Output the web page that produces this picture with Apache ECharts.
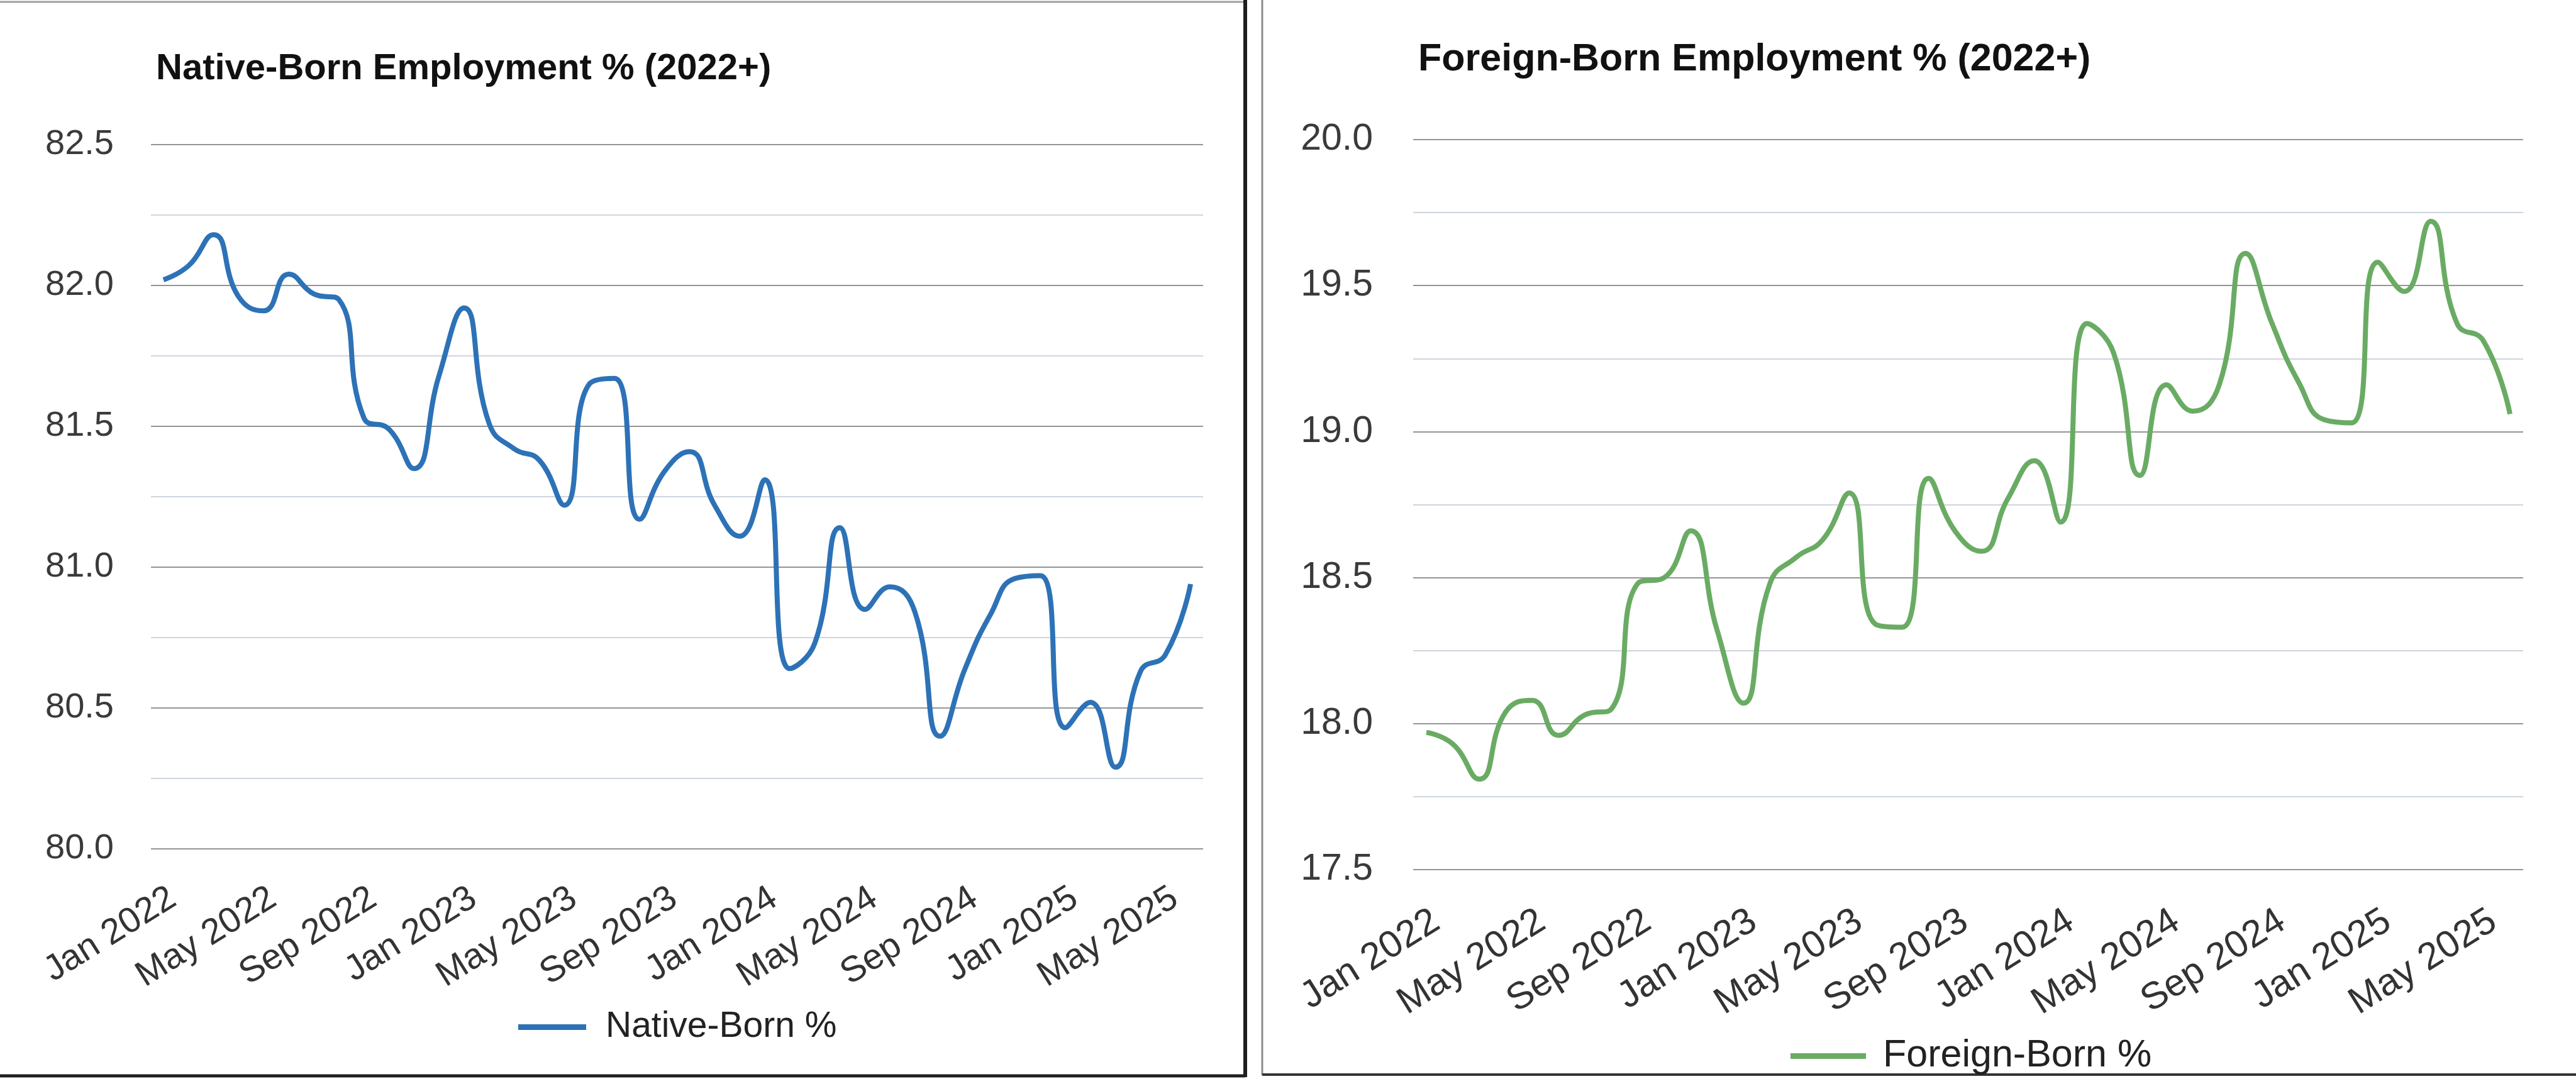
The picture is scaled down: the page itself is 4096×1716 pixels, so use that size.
<!DOCTYPE html>
<html>
<head>
<meta charset="utf-8">
<script src="https://cdn.jsdelivr.net/npm/echarts@6/dist/echarts.min.js"></script>
<style>
  html, body { margin: 0; padding: 0; background: #ffffff; }
  #chart { width: 4096px; height: 1716px; }
</style>
</head>
<body>
<div id="chart"></div>
<script>
// ---- Data ----
const months = [
  'Jan 2022','Feb 2022','Mar 2022','Apr 2022','May 2022','Jun 2022','Jul 2022','Aug 2022','Sep 2022','Oct 2022','Nov 2022','Dec 2022',
  'Jan 2023','Feb 2023','Mar 2023','Apr 2023','May 2023','Jun 2023','Jul 2023','Aug 2023','Sep 2023','Oct 2023','Nov 2023','Dec 2023',
  'Jan 2024','Feb 2024','Mar 2024','Apr 2024','May 2024','Jun 2024','Jul 2024','Aug 2024','Sep 2024','Oct 2024','Nov 2024','Dec 2024',
  'Jan 2025','Feb 2025','Mar 2025','Apr 2025','May 2025','Jun 2025'
];

const nativeBorn = [
  82.02, 82.07, 82.18, 81.96, 81.91, 82.04, 81.97, 81.95, 81.53, 81.49, 81.35, 81.68,
  81.92, 81.51, 81.42, 81.38, 81.22, 81.65, 81.67, 81.17, 81.34, 81.41, 81.22, 81.11,
  81.31, 80.64, 80.73, 81.14, 80.85, 80.93, 80.84, 80.40, 80.64, 80.83, 80.96, 80.97,
  80.43, 80.52, 80.29, 80.63, 80.69, 80.94
];

const foreignBorn = [
  17.97, 17.93, 17.81, 18.04, 18.08, 17.96, 18.03, 18.05, 18.48, 18.50, 18.66, 18.32,
  18.07, 18.48, 18.57, 18.63, 18.79, 18.34, 18.33, 18.84, 18.66, 18.59, 18.77, 18.90,
  18.69, 19.37, 19.27, 18.85, 19.16, 19.07, 19.16, 19.61, 19.37, 19.17, 19.04, 19.03,
  19.58, 19.48, 19.72, 19.37, 19.31, 19.06
];

const nativeAxis = { min: 80.0, max: 82.5, interval: 0.5 };
const foreignAxis = { min: 17.5, max: 20.0, interval: 0.5 };

const titles = ['Native-Born Employment % (2022+)', 'Foreign-Born Employment % (2022+)'];
const seriesNames = ['Native-Born %', 'Foreign-Born %'];

// ---- Chart ----
const FONT = '"Liberation Sans", Arial, Helvetica, sans-serif';
const chart = echarts.init(document.getElementById('chart'), null, { renderer: 'canvas' });

function xAxisCfg(gridIndex, fontSize, margin) {
  return {
    type: 'category', gridIndex: gridIndex, data: months, boundaryGap: true,
    axisLine: { show: false }, axisTick: { show: false },
    splitLine: { show: false },
    axisLabel: {
      interval: 3, rotate: 32, fontSize: fontSize, color: '#333333', fontFamily: FONT,
      margin: margin, align: 'right', verticalAlign: 'top'
    }
  };
}
function yAxisCfg(gridIndex, ax, fontSize, margin) {
  return {
    type: 'value', gridIndex: gridIndex, min: ax.min, max: ax.max, interval: ax.interval,
    axisLine: { show: false }, axisTick: { show: false },
    axisLabel: { fontSize: fontSize, color: '#3a3a3a', fontFamily: FONT, margin: margin,
      formatter: v => v.toFixed(1) },
    splitLine: { show: true, lineStyle: { color: '#959595', width: 2 } },
    minorTick: { show: false, splitNumber: 2 },
    minorSplitLine: { show: true, lineStyle: { color: '#cfd5de', width: 2 } }
  };
}

const option = {
  backgroundColor: '#ffffff',
  animation: false,
  title: [
    { text: titles[0], left: 243, top: 76,
      textStyle: { fontSize: 58, fontWeight: 'bold', color: '#111111', fontFamily: FONT } },
    { text: titles[1], left: 2250, top: 60,
      textStyle: { fontSize: 61, fontWeight: 'bold', color: '#111111', fontFamily: FONT } }
  ],
  grid: [
    { left: 240, top: 230, width: 1673, height: 1120 },
    { left: 2247, top: 222, width: 1765, height: 1161 }
  ],
  xAxis: [ xAxisCfg(0, 57, 50), xAxisCfg(1, 60, 52) ],
  yAxis: [ yAxisCfg(0, nativeAxis, 56, 59), yAxisCfg(1, foreignAxis, 59, 64) ],
  legend: [
    { data: [seriesNames[0]], left: 819, top: 1600, icon: 'rect', itemWidth: 108, itemHeight: 9,
      textStyle: { fontSize: 57, color: '#222222', fontFamily: FONT, padding: [0, 0, 0, 26] } },
    { data: [seriesNames[1]], left: 2842, top: 1644, icon: 'rect', itemWidth: 120, itemHeight: 9,
      textStyle: { fontSize: 61, color: '#222222', fontFamily: FONT, padding: [0, 0, 0, 22] } }
  ],
  series: [
    { name: seriesNames[0], type: 'line', xAxisIndex: 0, yAxisIndex: 0, data: nativeBorn,
      smooth: 0.5, showSymbol: false, symbol: 'none',
      lineStyle: { color: '#2d72b6', width: 8 }, itemStyle: { color: '#2d72b6' } },
    { name: seriesNames[1], type: 'line', xAxisIndex: 1, yAxisIndex: 1, data: foreignBorn,
      smooth: 0.5, showSymbol: false, symbol: 'none',
      lineStyle: { color: '#6aab64', width: 8 }, itemStyle: { color: '#6aab64' } }
  ],
  graphic: [
    { type: 'line', shape: { x1: 0, y1: 3, x2: 1980, y2: 3 }, style: { stroke: '#a0a0a0', lineWidth: 3 } },
    { type: 'line', shape: { x1: 1980, y1: 0, x2: 1980, y2: 1713 }, style: { stroke: '#1e1e1e', lineWidth: 6 } },
    { type: 'line', shape: { x1: 0, y1: 1711, x2: 1980, y2: 1711 }, style: { stroke: '#1e1e1e', lineWidth: 5 } },
    { type: 'line', shape: { x1: 2007, y1: 0, x2: 2007, y2: 1710 }, style: { stroke: '#8c8c8c', lineWidth: 3 } },
    { type: 'line', shape: { x1: 2007, y1: 1709, x2: 4096, y2: 1709 }, style: { stroke: '#333333', lineWidth: 4 } }
  ]
};
chart.setOption(option);
</script>
</body>
</html>
